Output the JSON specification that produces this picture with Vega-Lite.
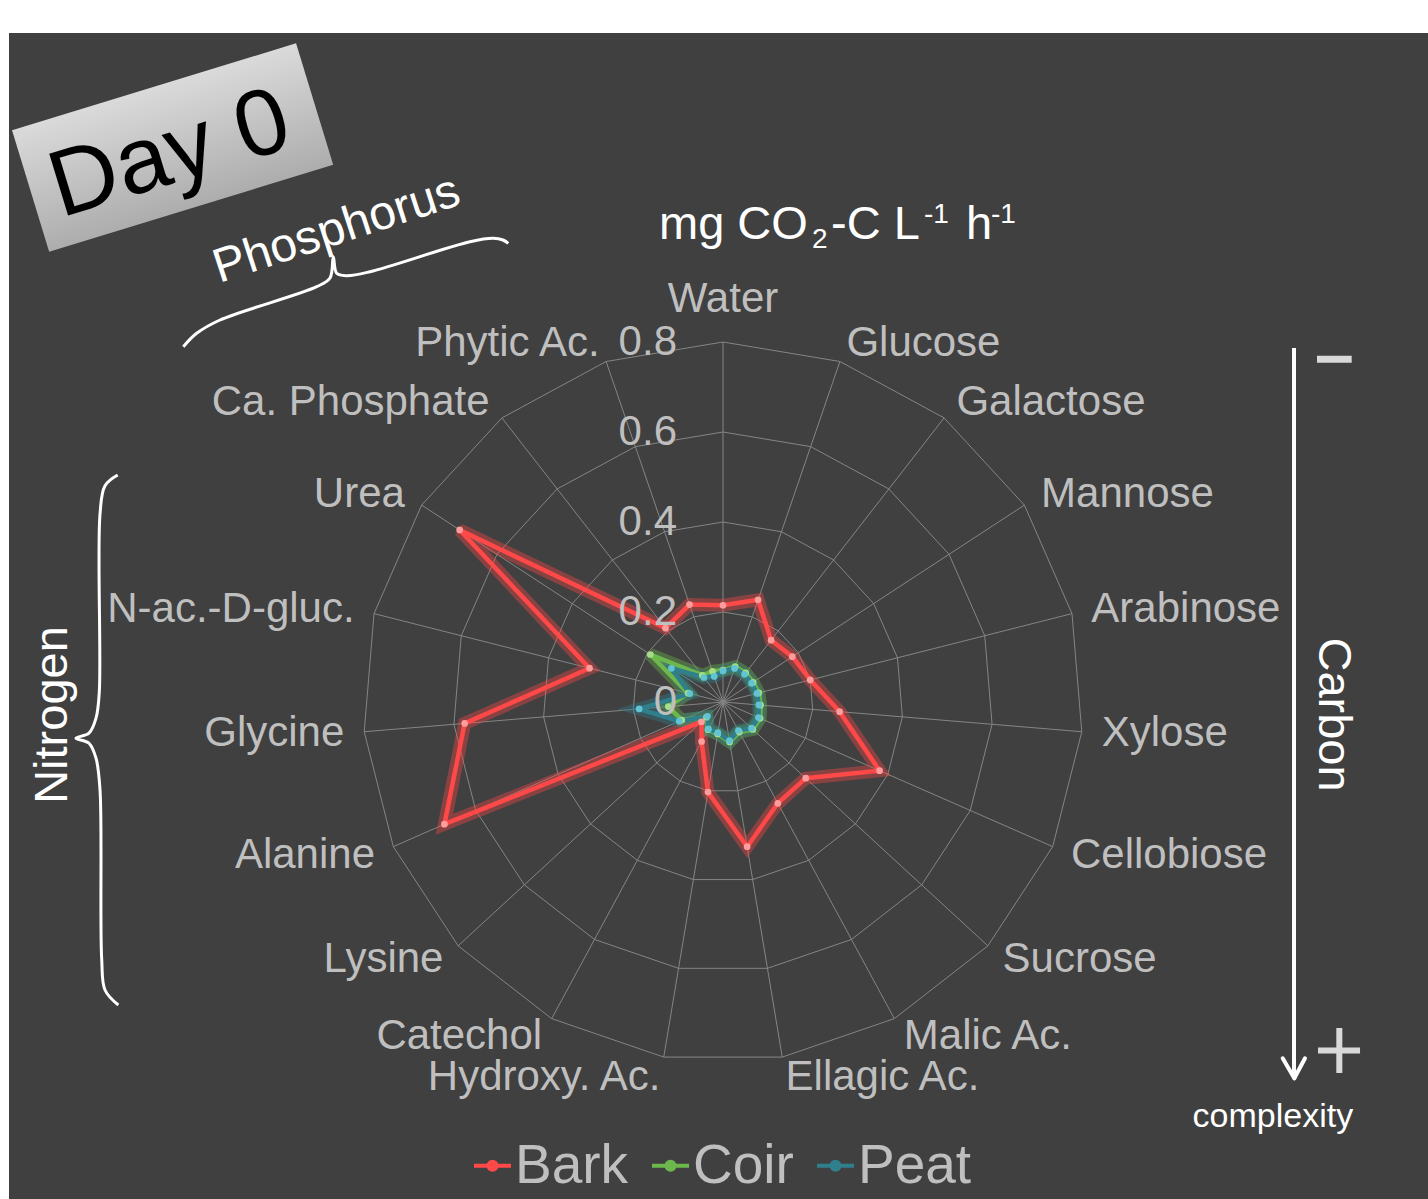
{
  "$schema": "https://vega.github.io/schema/vega-lite/v6.json",
  "width": 1419,
  "height": 1166,
  "autosize": {"type": "none"},
  "padding": {"left": 9, "top": 33, "right": 0, "bottom": 0},
  "background": "#ffffff",
  "config": {
    "view": {"fill": "#404040", "stroke": null},
    "font": "Liberation Sans",
    "text": {"font": "Liberation Sans"}
  },
  "data": {"values": [{"note": 1}]},
  "datasets": {
    "subs": [
      {"idx": 0, "substrate": "Water", "Bark": 0.215, "Coir": 0.071, "Peat": 0.069},
      {"idx": 1, "substrate": "Glucose", "Bark": 0.24, "Coir": 0.083, "Peat": 0.079},
      {"idx": 2, "substrate": "Galactose", "Bark": 0.174, "Coir": 0.082, "Peat": 0.078},
      {"idx": 3, "substrate": "Mannose", "Bark": 0.184, "Coir": 0.08, "Peat": 0.076},
      {"idx": 4, "substrate": "Arabinose", "Bark": 0.2, "Coir": 0.082, "Peat": 0.078},
      {"idx": 5, "substrate": "Xylose", "Bark": 0.26, "Coir": 0.084, "Peat": 0.08},
      {"idx": 6, "substrate": "Cellobiose", "Bark": 0.38, "Coir": 0.09, "Peat": 0.086},
      {"idx": 7, "substrate": "Sucrose", "Bark": 0.25, "Coir": 0.09, "Peat": 0.086},
      {"idx": 8, "substrate": "Malic Ac.", "Bark": 0.256, "Coir": 0.076, "Peat": 0.072},
      {"idx": 9, "substrate": "Ellagic Ac.", "Bark": 0.326, "Coir": 0.09, "Peat": 0.087},
      {"idx": 10, "substrate": "Hydroxy. Ac.", "Bark": 0.203, "Coir": 0.072, "Peat": 0.069},
      {"idx": 11, "substrate": "Catechol", "Bark": 0.1, "Coir": 0.07, "Peat": 0.068},
      {"idx": 12, "substrate": "Lysine", "Bark": 0.065, "Coir": 0.05, "Peat": 0.047},
      {"idx": 13, "substrate": "Alanine", "Bark": 0.676, "Coir": 0.1, "Peat": 0.106},
      {"idx": 14, "substrate": "Glycine", "Bark": 0.576, "Coir": 0.122, "Peat": 0.187},
      {"idx": 15, "substrate": "N-ac.-D-gluc.", "Bark": 0.306, "Coir": 0.08, "Peat": 0.076},
      {"idx": 16, "substrate": "Urea", "Bark": 0.699, "Coir": 0.193, "Peat": 0.137},
      {"idx": 17, "substrate": "Ca. Phosphate", "Bark": 0.208, "Coir": 0.075, "Peat": 0.069},
      {"idx": 18, "substrate": "Phytic Ac.", "Bark": 0.229, "Coir": 0.072, "Peat": 0.06}
    ],
    "rings": [
      {"level": 0.2, "idx": [0,1,2,3,4,5,6,7,8,9,10,11,12,13,14,15,16,17,18]},
      {"level": 0.4, "idx": [0,1,2,3,4,5,6,7,8,9,10,11,12,13,14,15,16,17,18]},
      {"level": 0.6, "idx": [0,1,2,3,4,5,6,7,8,9,10,11,12,13,14,15,16,17,18]},
      {"level": 0.8, "idx": [0,1,2,3,4,5,6,7,8,9,10,11,12,13,14,15,16,17,18]}
    ],
    "ticks": [{"level": 0}, {"level": 0.2}, {"level": 0.4}, {"level": 0.6}, {"level": 0.8}],
    "braces": [
      {"g": "P", "k": 1, "bx": -1.1993, "by": 0.7896},
      {"g": "P", "k": 2, "bx": -1.1696, "by": 0.8193},
      {"g": "P", "k": 3, "bx": -1.1178, "by": 0.8489},
      {"g": "P", "k": 4, "bx": -0.9029, "by": 0.9229},
      {"g": "P", "k": 5, "bx": -0.8733, "by": 0.9422},
      {"g": "P", "k": 6, "bx": -0.866, "by": 0.9896},
      {"g": "P", "k": 7, "bx": -0.8584, "by": 0.9527},
      {"g": "P", "k": 8, "bx": -0.8362, "by": 0.9473},
      {"g": "P", "k": 9, "bx": -0.7844, "by": 0.9562},
      {"g": "P", "k": 10, "bx": -0.5622, "by": 1.0229},
      {"g": "P", "k": 11, "bx": -0.5104, "by": 1.0304},
      {"g": "P", "k": 12, "bx": -0.4889, "by": 1.0267},
      {"g": "P", "k": 13, "bx": -0.4771, "by": 1.0193},
      {"g": "N", "k": 1, "bx": -1.3451, "by": 0.5044},
      {"g": "N", "k": 2, "bx": -1.3733, "by": 0.4807},
      {"g": "N", "k": 3, "bx": -1.3844, "by": 0.4178},
      {"g": "N", "k": 4, "bx": -1.386, "by": 0.0222},
      {"g": "N", "k": 5, "bx": -1.3933, "by": -0.036},
      {"g": "N", "k": 6, "bx": -1.4089, "by": -0.0693},
      {"g": "N", "k": 7, "bx": -1.4378, "by": -0.0804},
      {"g": "N", "k": 8, "bx": -1.4089, "by": -0.0916},
      {"g": "N", "k": 9, "bx": -1.3933, "by": -0.1249},
      {"g": "N", "k": 10, "bx": -1.3844, "by": -0.1956},
      {"g": "N", "k": 11, "bx": -1.3807, "by": -0.5704},
      {"g": "N", "k": 12, "bx": -1.3733, "by": -0.64},
      {"g": "N", "k": 13, "bx": -1.3438, "by": -0.6733}
    ]
  },
  "layer": [
    {
      "data": {"name": "rings"},
      "transform": [
        {"flatten": ["idx"]},
        {"calculate": "datum.level * sin(2 * PI * datum.idx / 19)", "as": "rx"},
        {"calculate": "datum.level * cos(2 * PI * datum.idx / 19)", "as": "ry"}
      ],
      "mark": {"type": "line", "interpolate": "linear-closed", "stroke": "#858585", "strokeWidth": 1},
      "encoding": {
        "x": {"field": "rx", "type": "quantitative", "scale": {"domain": [-1.58667, 1.56667], "nice": false, "zero": false}, "axis": null},
        "y": {"field": "ry", "type": "quantitative", "scale": {"domain": [-1.10444, 1.48667], "nice": false, "zero": false}, "axis": null},
        "detail": {"field": "level", "type": "nominal"},
        "order": {"field": "idx", "type": "quantitative"}
      }
    },
    {
      "data": {"name": "subs"},
      "transform": [
        {"calculate": "0", "as": "zero"},
        {"calculate": "0.8 * sin(2 * PI * datum.idx / 19)", "as": "sx"},
        {"calculate": "0.8 * cos(2 * PI * datum.idx / 19)", "as": "sy"}
      ],
      "mark": {"type": "rule", "stroke": "#858585", "strokeWidth": 1},
      "encoding": {
        "x": {"field": "zero", "type": "quantitative", "scale": {"domain": [-1.58667, 1.56667], "nice": false, "zero": false}, "axis": null},
        "y": {"field": "zero", "type": "quantitative", "scale": {"domain": [-1.10444, 1.48667], "nice": false, "zero": false}, "axis": null},
        "x2": {"field": "sx"},
        "y2": {"field": "sy"}
      }
    },
    {
      "data": {"name": "subs"},
      "transform": [
        {"fold": ["Bark", "Coir", "Peat"], "as": ["series", "value"]},
        {"calculate": "datum.value * sin(2 * PI * datum.idx / 19)", "as": "px"},
        {"calculate": "datum.value * cos(2 * PI * datum.idx / 19)", "as": "py"}
      ],
      "layer": [
        {
          "mark": {"type": "line", "interpolate": "linear-closed", "strokeWidth": 13, "opacity": 0.38},
          "encoding": {
            "x": {"field": "px", "type": "quantitative", "scale": {"domain": [-1.58667, 1.56667], "nice": false, "zero": false}, "axis": null},
            "y": {"field": "py", "type": "quantitative", "scale": {"domain": [-1.10444, 1.48667], "nice": false, "zero": false}, "axis": null},
            "color": {
              "field": "series", "type": "nominal",
              "scale": {"domain": ["Bark", "Coir", "Peat"], "range": ["#ff4848", "#6cb84c", "#2f7f8c"]},
              "legend": {
                "orient": "none", "legendX": 456, "legendY": 1105, "direction": "horizontal",
                "title": null, "labelFontSize": 55, "labelColor": "#bfbfbf", "labelFont": "Liberation Sans",
                "symbolType": "M-1,0H1M-0.22,0A0.22,0.22,0,1,1,0.22,0A0.22,0.22,0,1,1,-0.22,0",
                "symbolSize": 1369, "symbolStrokeWidth": 4, "symbolOpacity": 1,
                "columnPadding": 14, "labelOffset": -5, "padding": 0
              }
            },
            "order": {"field": "idx", "type": "quantitative"}
          }
        },
        {
          "mark": {"type": "line", "interpolate": "linear-closed", "strokeWidth": 4.5},
          "encoding": {
            "x": {"field": "px", "type": "quantitative", "scale": {"domain": [-1.58667, 1.56667], "nice": false, "zero": false}, "axis": null},
            "y": {"field": "py", "type": "quantitative", "scale": {"domain": [-1.10444, 1.48667], "nice": false, "zero": false}, "axis": null},
            "color": {"field": "series", "type": "nominal"},
            "order": {"field": "idx", "type": "quantitative"}
          }
        },
        {
          "mark": {"type": "point", "filled": true, "size": 45, "opacity": 1, "strokeWidth": 0},
          "encoding": {
            "x": {"field": "px", "type": "quantitative", "scale": {"domain": [-1.58667, 1.56667], "nice": false, "zero": false}, "axis": null},
            "y": {"field": "py", "type": "quantitative", "scale": {"domain": [-1.10444, 1.48667], "nice": false, "zero": false}, "axis": null},
            "fill": {"field": "series", "type": "nominal", "scale": {"domain": ["Bark", "Coir", "Peat"], "range": ["#ff9c9c", "#a6dd86", "#62c3d3"]}, "legend": null}
          }
        }
      ]
    },
    {
      "data": {"name": "subs"},
      "transform": [
        {"filter": "datum.idx >= 1 && datum.idx <= 9"},
        {"calculate": "0.8444 * sin(2 * PI * datum.idx / 19)", "as": "lx"},
        {"calculate": "0.8444 * cos(2 * PI * datum.idx / 19)", "as": "ly"}
      ],
      "mark": {"type": "text", "align": "left", "baseline": "middle", "fontSize": 42, "color": "#bfbfbf"},
      "encoding": {
        "x": {"field": "lx", "type": "quantitative", "scale": {"domain": [-1.58667, 1.56667], "nice": false, "zero": false}, "axis": null},
        "y": {"field": "ly", "type": "quantitative", "scale": {"domain": [-1.10444, 1.48667], "nice": false, "zero": false}, "axis": null},
        "text": {"field": "substrate", "type": "nominal"}
      }
    },
    {
      "data": {"name": "subs"},
      "transform": [
        {"filter": "datum.idx >= 10"},
        {"calculate": "0.8444 * sin(2 * PI * datum.idx / 19)", "as": "lx"},
        {"calculate": "0.8444 * cos(2 * PI * datum.idx / 19)", "as": "ly"}
      ],
      "mark": {"type": "text", "align": "right", "baseline": "middle", "fontSize": 42, "color": "#bfbfbf"},
      "encoding": {
        "x": {"field": "lx", "type": "quantitative", "scale": {"domain": [-1.58667, 1.56667], "nice": false, "zero": false}, "axis": null},
        "y": {"field": "ly", "type": "quantitative", "scale": {"domain": [-1.10444, 1.48667], "nice": false, "zero": false}, "axis": null},
        "text": {"field": "substrate", "type": "nominal"}
      }
    },
    {
      "data": {"name": "subs"},
      "transform": [
        {"filter": "datum.idx == 0"},
        {"calculate": "0", "as": "lx"},
        {"calculate": "0.8444", "as": "ly"}
      ],
      "mark": {"type": "text", "align": "center", "baseline": "alphabetic", "dy": -10, "fontSize": 42, "color": "#bfbfbf"},
      "encoding": {
        "x": {"field": "lx", "type": "quantitative", "scale": {"domain": [-1.58667, 1.56667], "nice": false, "zero": false}, "axis": null},
        "y": {"field": "ly", "type": "quantitative", "scale": {"domain": [-1.10444, 1.48667], "nice": false, "zero": false}, "axis": null},
        "text": {"field": "substrate", "type": "nominal"}
      }
    },
    {
      "data": {"name": "ticks"},
      "transform": [{"calculate": "0", "as": "zero"}],
      "mark": {"type": "text", "align": "right", "baseline": "middle", "dx": -46, "fontSize": 42, "color": "#bfbfbf"},
      "encoding": {
        "x": {"field": "zero", "type": "quantitative", "scale": {"domain": [-1.58667, 1.56667], "nice": false, "zero": false}, "axis": null},
        "y": {"field": "level", "type": "quantitative", "scale": {"domain": [-1.10444, 1.48667], "nice": false, "zero": false}, "axis": null},
        "text": {"field": "level", "type": "quantitative", "format": "~g"}
      }
    },
    {
      "data": {"name": "braces"},
      "mark": {"type": "line", "interpolate": "catmull-rom", "stroke": "#ffffff", "strokeWidth": 3},
      "encoding": {
        "x": {"field": "bx", "type": "quantitative", "scale": {"domain": [-1.58667, 1.56667], "nice": false, "zero": false}, "axis": null},
        "y": {"field": "by", "type": "quantitative", "scale": {"domain": [-1.10444, 1.48667], "nice": false, "zero": false}, "axis": null},
        "detail": {"field": "g", "type": "nominal"},
        "order": {"field": "k", "type": "quantitative"}
      }
    },
    {
      "mark": {"type": "point", "shape": "M-1,-0.4276L1,-0.4276L1,0.4276L-1,0.4276Z", "size": 88209, "angle": -17, "filled": true, "opacity": 1, "strokeWidth": 0,
        "fill": {"gradient": "linear", "x1": 0, "y1": 0, "x2": 0, "y2": 1, "stops": [{"offset": 0, "color": "#dadada"}, {"offset": 1, "color": "#adadad"}]}},
      "encoding": {
        "x": {"datum": -1.2231, "type": "quantitative", "scale": {"domain": [-1.58667, 1.56667], "nice": false, "zero": false}, "axis": null},
        "y": {"datum": 1.2322, "type": "quantitative", "scale": {"domain": [-1.10444, 1.48667], "nice": false, "zero": false}, "axis": null}
      }
    },
    {
      "mark": {"type": "text", "text": "Day 0", "fontSize": 94, "angle": -17, "align": "center", "baseline": "middle", "color": "#000000"},
      "encoding": {
        "x": {"datum": -1.2289, "type": "quantitative", "scale": {"domain": [-1.58667, 1.56667], "nice": false, "zero": false}, "axis": null},
        "y": {"datum": 1.2156, "type": "quantitative", "scale": {"domain": [-1.10444, 1.48667], "nice": false, "zero": false}, "axis": null}
      }
    },
    {
      "mark": {"type": "text", "text": "Phosphorus", "fontSize": 48, "angle": -18, "align": "center", "baseline": "middle", "color": "#ffffff"},
      "encoding": {
        "x": {"datum": -0.8584, "type": "quantitative", "scale": {"domain": [-1.58667, 1.56667], "nice": false, "zero": false}, "axis": null},
        "y": {"datum": 1.0489, "type": "quantitative", "scale": {"domain": [-1.10444, 1.48667], "nice": false, "zero": false}, "axis": null}
      }
    },
    {
      "mark": {"type": "text", "text": "Nitrogen", "fontSize": 47, "angle": 270, "align": "center", "baseline": "middle", "color": "#ffffff"},
      "encoding": {
        "x": {"datum": -1.49, "type": "quantitative", "scale": {"domain": [-1.58667, 1.56667], "nice": false, "zero": false}, "axis": null},
        "y": {"datum": -0.0289, "type": "quantitative", "scale": {"domain": [-1.10444, 1.48667], "nice": false, "zero": false}, "axis": null}
      }
    },
    {
      "mark": {"type": "text", "text": "Carbon", "fontSize": 47, "angle": 90, "align": "center", "baseline": "middle", "color": "#ffffff"},
      "encoding": {
        "x": {"datum": 1.3556, "type": "quantitative", "scale": {"domain": [-1.58667, 1.56667], "nice": false, "zero": false}, "axis": null},
        "y": {"datum": -0.0278, "type": "quantitative", "scale": {"domain": [-1.10444, 1.48667], "nice": false, "zero": false}, "axis": null}
      }
    },
    {
      "mark": {"type": "text", "text": "complexity", "fontSize": 34, "align": "center", "baseline": "alphabetic", "color": "#ffffff"},
      "encoding": {
        "x": {"datum": 1.222, "type": "quantitative", "scale": {"domain": [-1.58667, 1.56667], "nice": false, "zero": false}, "axis": null},
        "y": {"datum": -0.9438, "type": "quantitative", "scale": {"domain": [-1.10444, 1.48667], "nice": false, "zero": false}, "axis": null}
      }
    },
    {
      "mark": {"type": "rule", "stroke": "#ffffff", "strokeWidth": 4},
      "encoding": {
        "x": {"datum": 1.2689, "type": "quantitative", "scale": {"domain": [-1.58667, 1.56667], "nice": false, "zero": false}, "axis": null},
        "y": {"datum": 0.7867, "type": "quantitative", "scale": {"domain": [-1.10444, 1.48667], "nice": false, "zero": false}, "axis": null},
        "y2": {"datum": -0.8356}
      }
    },
    {
      "mark": {"type": "rule", "stroke": "#ffffff", "strokeWidth": 4, "strokeCap": "round"},
      "encoding": {
        "x": {"datum": 1.2438, "type": "quantitative", "scale": {"domain": [-1.58667, 1.56667], "nice": false, "zero": false}, "axis": null},
        "y": {"datum": -0.7918, "type": "quantitative", "scale": {"domain": [-1.10444, 1.48667], "nice": false, "zero": false}, "axis": null},
        "x2": {"datum": 1.2696},
        "y2": {"datum": -0.8362}
      }
    },
    {
      "mark": {"type": "rule", "stroke": "#ffffff", "strokeWidth": 4, "strokeCap": "round"},
      "encoding": {
        "x": {"datum": 1.2933, "type": "quantitative", "scale": {"domain": [-1.58667, 1.56667], "nice": false, "zero": false}, "axis": null},
        "y": {"datum": -0.7918, "type": "quantitative", "scale": {"domain": [-1.10444, 1.48667], "nice": false, "zero": false}, "axis": null},
        "x2": {"datum": 1.2696},
        "y2": {"datum": -0.8362}
      }
    },
    {
      "mark": {"type": "rule", "stroke": "#d9d9d9", "strokeWidth": 7},
      "encoding": {
        "x": {"datum": 1.32, "type": "quantitative", "scale": {"domain": [-1.58667, 1.56667], "nice": false, "zero": false}, "axis": null},
        "y": {"datum": 0.7616, "type": "quantitative", "scale": {"domain": [-1.10444, 1.48667], "nice": false, "zero": false}, "axis": null},
        "x2": {"datum": 1.3971}
      }
    },
    {
      "mark": {"type": "rule", "stroke": "#d9d9d9", "strokeWidth": 6},
      "encoding": {
        "x": {"datum": 1.3222, "type": "quantitative", "scale": {"domain": [-1.58667, 1.56667], "nice": false, "zero": false}, "axis": null},
        "y": {"datum": -0.7744, "type": "quantitative", "scale": {"domain": [-1.10444, 1.48667], "nice": false, "zero": false}, "axis": null},
        "x2": {"datum": 1.4156}
      }
    },
    {
      "mark": {"type": "rule", "stroke": "#d9d9d9", "strokeWidth": 6},
      "encoding": {
        "x": {"datum": 1.3696, "type": "quantitative", "scale": {"domain": [-1.58667, 1.56667], "nice": false, "zero": false}, "axis": null},
        "y": {"datum": -0.7244, "type": "quantitative", "scale": {"domain": [-1.10444, 1.48667], "nice": false, "zero": false}, "axis": null},
        "y2": {"datum": -0.8244}
      }
    },
    {
      "mark": {"type": "text", "text": "mg CO", "fontSize": 47, "align": "left", "baseline": "alphabetic", "color": "#ffffff"},
      "encoding": {
        "x": {"datum": -0.1422, "type": "quantitative", "scale": {"domain": [-1.58667, 1.56667], "nice": false, "zero": false}, "axis": null},
        "y": {"datum": 1.03, "type": "quantitative", "scale": {"domain": [-1.10444, 1.48667], "nice": false, "zero": false}, "axis": null}
      }
    },
    {
      "mark": {"type": "text", "text": "2", "fontSize": 28, "align": "left", "baseline": "alphabetic", "color": "#ffffff"},
      "encoding": {
        "x": {"datum": 0.1978, "type": "quantitative", "scale": {"domain": [-1.58667, 1.56667], "nice": false, "zero": false}, "axis": null},
        "y": {"datum": 1.0078, "type": "quantitative", "scale": {"domain": [-1.10444, 1.48667], "nice": false, "zero": false}, "axis": null}
      }
    },
    {
      "mark": {"type": "text", "text": "-C L", "fontSize": 47, "align": "left", "baseline": "alphabetic", "color": "#ffffff"},
      "encoding": {
        "x": {"datum": 0.24, "type": "quantitative", "scale": {"domain": [-1.58667, 1.56667], "nice": false, "zero": false}, "axis": null},
        "y": {"datum": 1.03, "type": "quantitative", "scale": {"domain": [-1.10444, 1.48667], "nice": false, "zero": false}, "axis": null}
      }
    },
    {
      "mark": {"type": "text", "text": "-1", "fontSize": 28, "align": "left", "baseline": "alphabetic", "color": "#ffffff"},
      "encoding": {
        "x": {"datum": 0.4467, "type": "quantitative", "scale": {"domain": [-1.58667, 1.56667], "nice": false, "zero": false}, "axis": null},
        "y": {"datum": 1.0644, "type": "quantitative", "scale": {"domain": [-1.10444, 1.48667], "nice": false, "zero": false}, "axis": null}
      }
    },
    {
      "mark": {"type": "text", "text": "h", "fontSize": 47, "align": "left", "baseline": "alphabetic", "color": "#ffffff"},
      "encoding": {
        "x": {"datum": 0.54, "type": "quantitative", "scale": {"domain": [-1.58667, 1.56667], "nice": false, "zero": false}, "axis": null},
        "y": {"datum": 1.03, "type": "quantitative", "scale": {"domain": [-1.10444, 1.48667], "nice": false, "zero": false}, "axis": null}
      }
    },
    {
      "mark": {"type": "text", "text": "-1", "fontSize": 28, "align": "left", "baseline": "alphabetic", "color": "#ffffff"},
      "encoding": {
        "x": {"datum": 0.5956, "type": "quantitative", "scale": {"domain": [-1.58667, 1.56667], "nice": false, "zero": false}, "axis": null},
        "y": {"datum": 1.0644, "type": "quantitative", "scale": {"domain": [-1.10444, 1.48667], "nice": false, "zero": false}, "axis": null}
      }
    }
  ]
}
